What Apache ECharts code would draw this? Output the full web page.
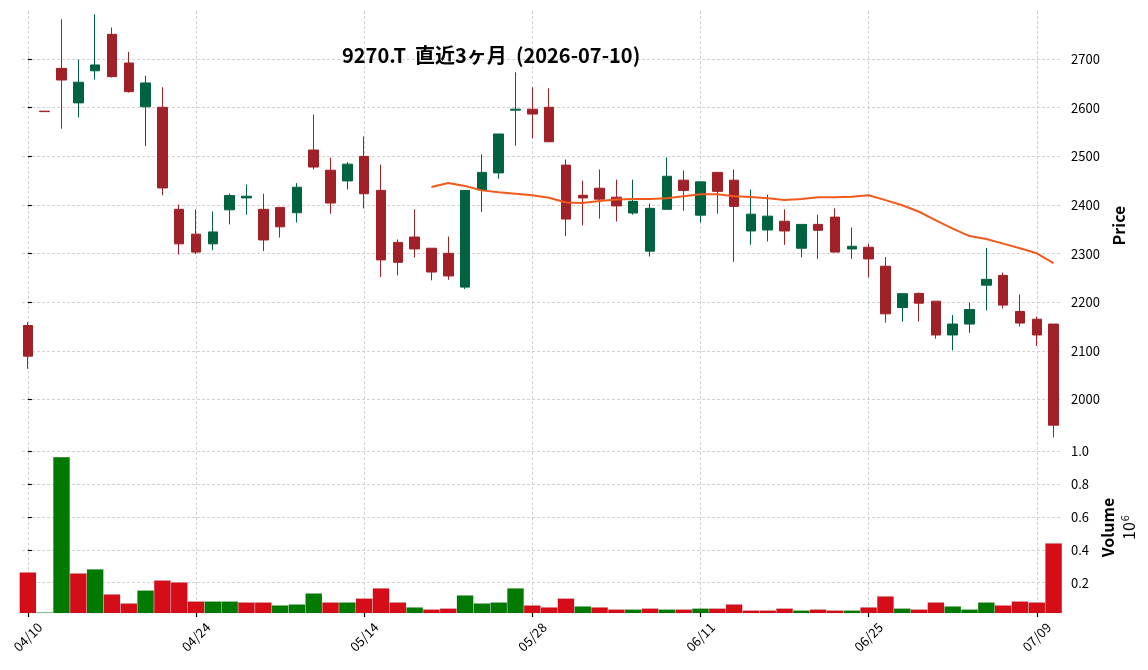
<!DOCTYPE html>
<html><head><meta charset="utf-8">
<script src="https://cdn.jsdelivr.net/npm/echarts@6/dist/echarts.min.js"></script>
<style>html,body{margin:0;padding:0;background:#fff}#c{width:1148px;height:670px}</style>
</head><body><div id="c"></div>
<script>
const dates = ['04/10','04/13','04/14','04/15','04/16','04/17','04/20','04/21','04/22','04/23',
'04/24','04/27','04/28','04/30','05/01','05/07','05/08','05/11','05/12','05/13',
'05/14','05/15','05/18','05/19','05/20','05/21','05/22','05/25','05/26','05/27',
'05/28','05/29','06/01','06/02','06/03','06/04','06/05','06/08','06/09','06/10',
'06/11','06/12','06/15','06/16','06/17','06/18','06/19','06/22','06/23','06/24',
'06/25','06/26','06/29','06/30','07/01','07/02','07/03','07/06','07/07','07/08',
'07/09','07/10'];
const opens = [2152,2593,2681,2610,2676,2751,2692,2602,2601,2391,
2340,2320,2390,2414.5,2391,2395,2384,2513,2471.5,2449.5,
2500,2430,2323,2334,2311,2300.5,2231,2431,2466,2595,
2597,2601,2482,2420,2434.5,2416,2383.5,2305,2391,2451,
2379,2467,2451,2346.5,2348.5,2366.5,2311,2360,2375,2309.5,
2313,2274,2189,2218,2202,2132.5,2155,2235,2255,2181,
2165,2155];
const closes = [2089,2592,2657,2652.5,2688,2664,2633,2651,2435,2320,
2303,2344.5,2419.5,2418,2328,2355,2436.5,2478,2404,2484,
2423,2287,2282,2309.5,2262,2254,2430,2467,2546,2597,
2587,2530,2371,2414.5,2412,2398,2407.5,2393,2459,2430,
2447.5,2428,2397,2381,2377,2346.5,2360,2348,2303,2315,
2289,2176,2217.5,2198,2132.5,2155,2185,2247,2194,2157,
2132.5,1947];
const highs = [2159,2593,2782,2699,2792,2765,2715,2666,2642,2401,
2391,2386.5,2423.5,2442,2423,2395,2445,2586,2497.5,2488,
2541,2483,2329,2391,2311,2335,2430,2504,2546,2673,
2642,2640,2493.5,2450,2473,2452,2452,2403,2498,2471,
2447.5,2467,2473,2432,2421.5,2391,2360,2380,2393,2353.5,
2320,2293,2217.5,2220,2202,2173.5,2199,2311.5,2261,2216,
2170,2155];
const lows = [2063,2592,2557,2580,2658,2662,2631,2521,2420,2298,
2299,2307,2360,2380,2305,2333,2364,2473,2382,2432,
2393,2252,2255,2292,2245,2246,2227,2386,2454,2522,
2537,2530,2336,2358,2372,2366,2380,2294,2391,2388,
2364,2382,2283,2318,2325,2318,2292,2289,2303,2289,
2251,2158,2160,2160,2125,2101,2137,2183,2187,2150,
2110,1922];
// volume in millions (x 10^6)
const volumes = [0.263,0.019,0.965,0.257,0.282,0.129,0.074,0.153,0.214,0.202,
0.086,0.086,0.086,0.080,0.080,0.062,0.068,0.135,0.080,0.080,
0.104,0.166,0.080,0.050,0.037,0.043,0.123,0.074,0.080,0.166,
0.062,0.050,0.104,0.056,0.050,0.037,0.037,0.043,0.037,0.037,
0.043,0.043,0.068,0.031,0.031,0.043,0.031,0.037,0.031,0.031,
0.050,0.117,0.043,0.037,0.080,0.056,0.037,0.080,0.062,0.086,
0.080,0.440];
const ma25 = [null,null,null,null,null,null,null,null,null,null,
null,null,null,null,null,null,null,null,null,null,
null,null,null,null,2437,2445,2439,2430,2426,2423,
2420,2415,2405,2404,2408,2411,2412.5,2412.5,2414,2418,
2422,2422,2418,2416.5,2414,2410,2412.5,2416,2416,2417,
2420,2410,2399.5,2386,2368.5,2351.5,2336,2330,2320.5,2311,
2300.5,2280.5];
const priceTicks = [2000,2100,2200,2300,2400,2500,2600,2700];
const volumeTicks = [0.2,0.4,0.6,0.8,1.0];
const dateTickIdx = [0,10,20,30,40,50,60];
const titleText = '9270.T  直近3ヶ月  (2026-07-10)';

const UP = '#006340', DOWN = '#a02128', VUP = '#007a00', VDOWN = '#d50d18';
const FONT = 'Noto Sans CJK JP';
const gridLine = { show: true, lineStyle: { color: '#c6c6c6', width: 0.8, type: [3, 2] } };

const candleData = opens.map((o, i) => [i, o, closes[i], lows[i], highs[i]]);
const maData = ma25.map((v, i) => v == null ? null : [i, v]).filter(d => d);
const volData = volumes.map((v, i) => {
  const up = i === 0 ? closes[i] >= opens[i] : closes[i] >= closes[i - 1];
  return { value: [i, v], itemStyle: { color: up ? VUP : VDOWN } };
});

const chart = echarts.init(document.getElementById('c'), null, { renderer: 'canvas' });
chart.setOption({
  animation: false,
  backgroundColor: '#fff',
  textStyle: { fontFamily: FONT },
  title: {
    text: titleText, left: 337, top: 40,
    textStyle: { fontFamily: FONT, fontWeight: 'bold', fontSize: 20, color: '#000' }
  },
  grid: [
    { left: 22, right: 86, top: 11, height: 429 },
    { left: 22, right: 86, top: 442, height: 171 }
  ],
  xAxis: [
    { type: 'value', gridIndex: 0, min: -0.35, max: 61.5,
      axisLine: { show: false }, axisLabel: { show: false, customValues: dateTickIdx },
      axisTick: { show: false, customValues: dateTickIdx }, splitLine: gridLine },
    { type: 'value', gridIndex: 1, min: -0.35, max: 61.5,
      axisLine: { show: false },
      axisTick: { show: true, customValues: dateTickIdx, length: 4, lineStyle: { color: '#000', width: 1.2 } },
      axisLabel: { show: true, customValues: dateTickIdx, rotate: 45, align: 'center', verticalAlign: 'middle',
        margin: 24, fontSize: 13, color: '#000', fontFamily: FONT, formatter: v => dates[Math.round(v)] },
      splitLine: gridLine }
  ],
  yAxis: [
    { type: 'value', gridIndex: 0, position: 'right', min: 1916.5, max: 2799, scale: true,
      axisLine: { show: false },
      axisTick: { show: true, customValues: priceTicks, length: 4, lineStyle: { color: '#000', width: 1.2 } },
      axisLabel: { customValues: priceTicks, margin: 9, fontSize: 13, color: '#000', fontFamily: FONT,
        formatter: v => String(v) },
      splitLine: gridLine,
      name: 'Price', nameLocation: 'middle', nameRotate: 90, nameGap: 42,
      nameTextStyle: { fontFamily: FONT, fontWeight: 'bold', fontSize: 16, color: '#000' } },
    { type: 'value', gridIndex: 1, position: 'right', min: 0.015, max: 1.057,
      axisLine: { show: false },
      axisTick: { show: true, customValues: volumeTicks, length: 4, lineStyle: { color: '#000', width: 1.2 } },
      axisLabel: { customValues: volumeTicks, margin: 9, fontSize: 13, color: '#000', fontFamily: FONT,
        formatter: v => v.toFixed(1) },
      splitLine: gridLine,
      name: '{a|Volume}\n{b|10}{s|6}', nameLocation: 'middle', nameRotate: 90, nameGap: 31,
      nameTextStyle: { fontSize: 16, rich: {
        a: { fontFamily: FONT, fontWeight: 'bold', fontSize: 16, color: '#000', lineHeight: 21 },
        b: { fontFamily: FONT, fontWeight: 'normal', fontSize: 16, color: '#000', lineHeight: 21 },
        s: { fontFamily: FONT, fontWeight: 'normal', fontSize: 11, color: '#000', lineHeight: 21, padding: [0, 0, 8, 1] } } } }
  ],
  series: [
    { type: 'candlestick', xAxisIndex: 0, yAxisIndex: 0, data: candleData,
      encode: { x: 0, y: [1, 2, 3, 4] }, barWidth: 10, clip: true,
      itemStyle: { color: UP, color0: DOWN, borderColor: UP, borderColor0: DOWN, borderWidth: 1 } },
    { type: 'line', xAxisIndex: 0, yAxisIndex: 0, data: maData, showSymbol: false, smooth: false,
      lineStyle: { color: '#f25a1c', width: 2 }, z: 5 },
    { type: 'bar', xAxisIndex: 1, yAxisIndex: 1, data: volData, barWidth: 16.8, clip: true,
      itemStyle: { borderColor: 'rgba(0,0,0,0.12)', borderWidth: 0.5 } }
  ]
});
</script></body></html>
